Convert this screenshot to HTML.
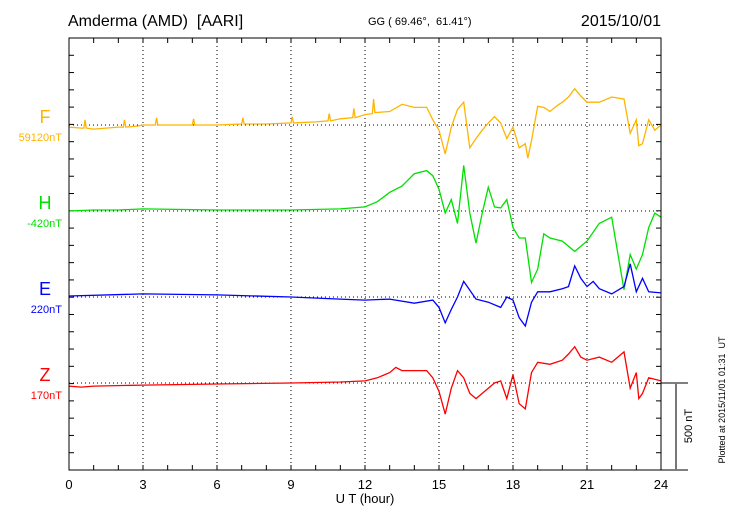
<!DOCTYPE html>
<html><head><meta charset="utf-8"><style>
body{margin:0;background:#fff;width:730px;height:520px;overflow:hidden;font-family:"Liberation Sans",sans-serif}
svg text{font-family:"Liberation Sans",sans-serif;white-space:pre}
</style></head><body>
<svg id="chart" width="730" height="520" xmlns="http://www.w3.org/2000/svg">
<text x="68" y="26" font-size="16">Amderma (AMD)&#160;&#160;[AARI]</text>
<text x="368" y="25" font-size="11">GG ( 69.46°,&#160; 61.41°)</text>
<text x="661" y="26" font-size="16" text-anchor="end">2015/10/01</text>
<text x="365" y="503" font-size="13" text-anchor="middle">U T (hour)</text>
<g id="grid"></g><g id="axes"></g><g id="series"></g><g id="labels"></g>
<rect x="69" y="38" width="592" height="432" fill="none" stroke="#000" stroke-width="1"/>
<g stroke="#000" stroke-width="1">
<line x1="661" y1="383" x2="688" y2="383"/><line x1="661" y1="470" x2="688" y2="470"/><line x1="676" y1="383" x2="676" y2="470" stroke="#777" stroke-width="2"/></g>
<text transform="translate(692,426) rotate(-90)" font-size="11" text-anchor="middle">500 nT</text>
<text transform="translate(725,400) rotate(-90)" font-size="9" text-anchor="middle">Plotted at 2015/11/01 01:31  UT</text>
</svg>
<script>
const xTicks=[0,3,6,9,12,15,18,21,24];
const seriesNames=["F","H","E","Z"];
const seriesBase=["59120nT","-420nT","220nT","170nT"];
const seriesColors=["#ffb400","#00e000","#0000ff","#ff0000"];
const fT=[0,0.5,0.6,0.65,0.7,1,1.5,2,2.2,2.25,2.3,2.8,3,3.5,3.55,3.6,5,5.05,5.1,6,7,7.05,7.1,8,9,9.05,9.1,10,10.5,10.55,10.6,11,11.5,11.55,11.6,12,12.3,12.35,12.4,13,13.5,14,14.5,14.75,15,15.25,15.5,15.75,16,16.25,16.5,16.75,17,17.25,17.5,17.75,18,18.25,18.5,18.6,18.75,19,19.25,19.5,19.75,20,20.25,20.5,20.75,21,21.5,22,22.5,22.75,23,23.1,23.25,23.5,23.75,24];
const fV=[-12,-18,-18,30,-18,-24,-18,-12,-12,30,-12,-6,0,0,42,0,0,36,0,0,6,42,6,6,12,48,12,18,24,66,24,36,42,96,42,60,66,150,72,78,120,102,102,30,-30,-168,-12,90,132,-132,-78,-30,12,48,12,-78,-12,-132,-108,-192,-90,108,102,78,108,132,162,210,168,132,132,162,150,-48,30,-120,-108,30,-30,0];
const hT=[0,1,2,3,6,9,11,12,12.5,13,13.5,14,14.5,14.75,15,15.25,15.5,15.75,16,16.25,16.5,16.75,17,17.25,17.5,17.75,18,18.25,18.5,18.75,19,19.25,19.5,20,20.5,21,21.5,22,22.5,22.75,23,23.25,23.5,23.75,24];
const hV=[0,6,6,12,6,6,12,24,54,108,144,216,234,204,126,-12,66,-72,264,-12,-186,-12,138,24,18,66,-96,-156,-156,-414,-336,-132,-156,-174,-234,-174,-72,-36,-456,-252,-336,-252,-96,-12,-36];
const eT=[0,3,6,9,11,12,13,14,14.75,15,15.25,15.5,15.75,16,16.5,17,17.5,17.75,18,18.25,18.5,18.75,19,19.5,20,20.25,20.5,20.75,21,21.25,21.5,22,22.5,22.75,23,23.25,23.5,24];
const eV=[6,18,12,0,-12,-18,-12,-36,-18,-60,-150,-72,0,90,-12,-30,-60,0,-18,-120,-168,-30,30,30,48,60,180,108,60,90,48,18,60,192,30,108,30,24];
const zT=[0,0.5,1,3,6,9,11,12,12.5,13,13.25,13.5,14,14.5,14.75,15,15.25,15.5,15.75,16,16.25,16.5,16.75,17,17.25,17.5,17.75,18,18.25,18.5,18.75,19,19.5,20,20.25,20.5,20.75,21,21.5,22,22.5,22.75,23,23.1,23.25,23.5,24];
const zV=[-18,-24,-18,-12,-6,0,6,12,30,60,90,72,72,72,30,-48,-180,-30,72,30,-60,-90,-60,-30,0,12,-90,48,-120,-150,60,120,108,132,168,210,150,132,150,120,180,-30,60,-90,-60,30,12];
const tData=[fT,hT,eT,zT], vData=[fV,hV,eV,zV];
const baseY=[125,211,297,383];
const X0=69,X1=661,Y0=38,Y1=470,DIV=17.28;
const xS=h=>X0+(X1-X0)*h/24;
const yS=(i,v)=>baseY[i]-v*DIV/100;
const NS="http://www.w3.org/2000/svg";
function mk(t,a,p){const e=document.createElementNS(NS,t);for(const k in a)e.setAttribute(k,a[k]);p.appendChild(e);return e;}
const grid=document.getElementById('grid'),axes=document.getElementById('axes'),ser=document.getElementById('series'),lab=document.getElementById('labels');
xTicks.forEach(h=>{
 if(h>0&&h<24){const g=mk('line',{x1:xS(h),x2:xS(h),y1:Y0,y2:Y1,stroke:'#000','stroke-dasharray':'1,3'},grid);
 
 }
 const t=mk('text',{x:xS(h),y:489,'font-size':13,'text-anchor':'middle'},lab);t.textContent=h;
 
 
});
for(let h=1;h<24;h++){
 const a=mk('line',{x1:xS(h),x2:xS(h),y1:Y0,y2:Y0+5,stroke:'#000'},axes);
 
 
 const b=mk('line',{x1:xS(h),x2:xS(h),y1:Y1,y2:Y1-5,stroke:'#000'},axes);
 
 
}
for(let k=1;k<25;k++){const y=Y0+k*DIV;
 const a=mk('line',{x1:X0,x2:X0+5,y1:y,y2:y,stroke:'#000'},axes);
 
 
 const b=mk('line',{x1:X1,x2:X1-5,y1:y,y2:y,stroke:'#000'},axes);
 
 
}
seriesNames.forEach((n,i)=>{
 const g=mk('line',{x1:X0,x2:X1,y1:baseY[i],y2:baseY[i],stroke:'#000','stroke-dasharray':'1,3'},grid);
 
 
 const pts=tData[i].map((t,j)=>xS(t).toFixed(1)+','+yS(i,vData[i][j]).toFixed(1)).join(' ');
 const p=mk('polyline',{points:pts,fill:'none',stroke:seriesColors[i],'stroke-width':1.3},ser);
 
 
 const l=mk('text',{x:45,y:baseY[i]-2,'font-size':18,'text-anchor':'middle',fill:seriesColors[i]},lab);l.textContent=n;
 
 
 const b=mk('text',{x:62,y:baseY[i]+16,'font-size':11,'text-anchor':'end',fill:seriesColors[i]},lab);b.textContent=seriesBase[i];
 
 
});
</script>
</body></html>
